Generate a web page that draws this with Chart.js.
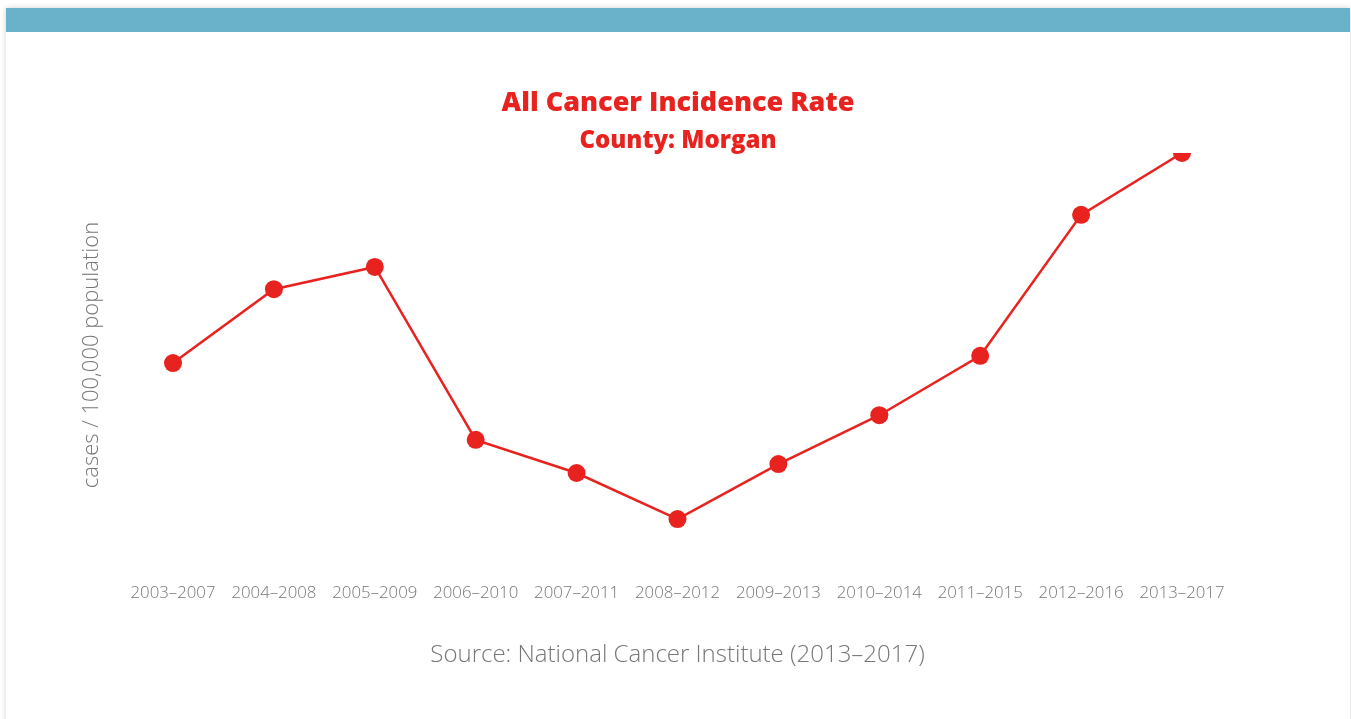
<!DOCTYPE html>
<html>
<head>
<meta charset="utf-8">
<script src="https://cdn.jsdelivr.net/npm/chart.js@4"></script>
<style>
  html, body { margin: 0; padding: 0; background: #fff; overflow: hidden; }
  .card {
    position: absolute; left: 6px; top: 8px; width: 1344px; height: 760px;
    background: #fff; box-shadow: 0 0 6px rgba(0, 0, 0, 0.18);
  }
  .card .bar { height: 24px; background: #6ab2ca; }
  .chart-box { position: relative; width: 1344px; height: 687px; }
</style>
</head>
<body>
<div class="card">
  <div class="bar"></div>
  <div class="chart-box"><canvas id="myChart"></canvas></div>
</div>
<script>
// Dữ liệu biểu đồ
var periods = ['2003–2007', '2004–2008', '2005–2009', '2006–2010', '2007–2011', '2008–2012',
               '2009–2013', '2010–2014', '2011–2015', '2012–2016', '2013–2017'];
var incidenceRate = [448.0, 466.3, 471.8, 429.0, 420.8, 409.4, 423.0, 435.1, 449.8, 484.7, 500.0];
var yMin = 400;
var yMax = 500;

var titleText = 'All Cancer Incidence Rate';
var subtitleText = 'County: Morgan';
var yTitleText = 'cases / 100,000 population';
var sourceText = 'Source: National Cancer Institute (2013–2017)';

var red = '#e8231f';
var grey = '#777777';

var ctx = document.getElementById('myChart');
new Chart(ctx.getContext('2d'), {
    type: 'line',
    data: {
        labels: periods,
        datasets: [{
            label: 'Incidence rate',
            data: incidenceRate,
            borderColor: red,
            backgroundColor: red,
            borderWidth: 2.5,
            pointRadius: 9,
            pointBorderWidth: 0,
            pointBackgroundColor: red,
            tension: 0
        }]
    },
    options: {
        responsive: true,
        maintainAspectRatio: false,
        animation: false,
        layout: { padding: { top: 0, left: 0, right: 0, bottom: 49.6 } },
        plugins: {
            legend: { display: false },
            tooltip: { enabled: false },
            title: {
                display: true,
                text: titleText,
                color: red,
                font: { family: 'Open Sans', size: 27, weight: '800', lineHeight: 1.0 },
                padding: { top: 57.5, bottom: 0 }
            },
            subtitle: {
                display: true,
                text: subtitleText,
                color: red,
                font: { family: 'Open Sans', size: 24, weight: '800', lineHeight: 1.0 },
                padding: { top: 12.5, bottom: 0 }
            }
        },
        scales: {
            x: {
                offset: false,
                grid: { display: false, drawTicks: false },
                border: { display: false },
                ticks: {
                    color: grey,
                    autoSkip: false,
                    maxRotation: 0,
                    padding: 26,
                    font: { family: 'Open Sans', size: 16.8, weight: '300' }
                },
                title: {
                    display: true,
                    text: sourceText,
                    color: grey,
                    font: { family: 'Open Sans', size: 24, weight: '300', lineHeight: 1.2 },
                    padding: { top: 11.4, bottom: 0 }
                }
            },
            y: {
                min: yMin,
                max: yMax,
                grid: { display: false, drawTicks: false },
                border: { display: false },
                ticks: { display: false },
                title: {
                    display: true,
                    text: yTitleText,
                    color: grey,
                    font: { family: 'Open Sans', size: 22, weight: '300', lineHeight: 1.2 },
                    padding: { top: 72.8, bottom: 67.8 }
                }
            },
            // trục phải trống, chỉ để giữ khoảng trống bên phải
            yRight: {
                position: 'right',
                display: true,
                grid: { display: false, drawTicks: false },
                border: { display: false },
                ticks: { display: false },
                afterFit: function (scale) { scale.width = 168; }
            }
        }
    }
});
</script>
</body>
</html>
